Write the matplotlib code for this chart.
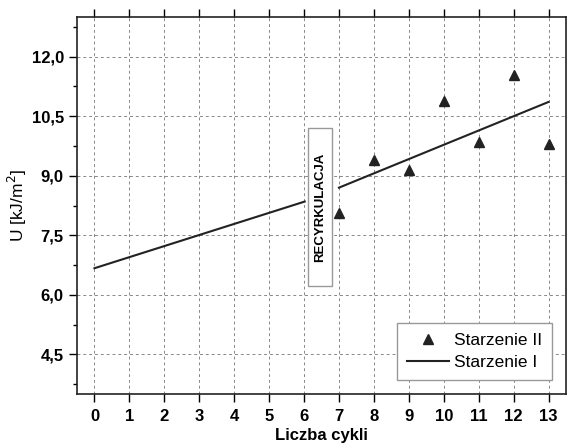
"""
Udarnosc U w funkcji liczby cykli (Starzenie I / Starzenie II)
"""
import matplotlib
matplotlib.use('Agg')
import matplotlib.pyplot as plt
from matplotlib.patches import Rectangle
from matplotlib.ticker import MultipleLocator

plt.rcParams['font.family'] = ['Liberation Sans', 'DejaVu Sans']

# Starzenie II - punkty pomiarowe
cykle_II = [7, 8, 9, 10, 11, 12, 13]
u_II = [8.07, 9.40, 9.15, 10.89, 9.86, 11.54, 9.80]

# Starzenie I - dwa odcinki (przed i po recyrkulacji)
cykle_I_a = [0, 6.02]
u_I_a = [6.67, 8.35]
cykle_I_b = [7, 13]
u_I_b = [8.70, 10.86]

x_ticks = list(range(0, 14))
y_ticks = [4.5, 6.0, 7.5, 9.0, 10.5, 12.0]

fig = plt.figure(figsize=(5.67, 4.48), dpi=100)
ax = fig.add_axes([0.1358, 0.1205, 0.8624, 0.8415])

line, = ax.plot(cykle_I_a, u_I_a, color='#222222', linewidth=1.5, label='Starzenie I')
ax.plot(cykle_I_b, u_I_b, color='#222222', linewidth=1.5)
pts, = ax.plot(cykle_II, u_II, linestyle='none', marker='^', markersize=7.5,
               color='#222222', label='Starzenie II')

ax.set_xlim(-0.5, 13.5)
ax.set_ylim(3.5, 13.0)
ax.set_xticks(x_ticks)
ax.set_yticks(y_ticks)
ax.yaxis.set_minor_locator(MultipleLocator(0.75))
ax.set_yticklabels([f'{v:.1f}'.replace('.', ',') for v in y_ticks])

ax.tick_params(axis='both', which='major', direction='out', length=6, width=1,
               labelsize=12)
ax.tick_params(axis='x', which='major', pad=5, top=True, labeltop=False)
ax.tick_params(axis='y', which='major', pad=3.5)
ax.tick_params(axis='y', which='minor', direction='out', length=3, width=1)
for lab in ax.get_xticklabels() + ax.get_yticklabels():
    lab.set_fontweight('bold')

ax.grid(True, which='major', color='#888888', linestyle=(0, (3, 3)), linewidth=0.7)
ax.set_axisbelow(True)
for s in ax.spines.values():
    s.set_linewidth(1.2)
    s.set_color('#222222')

ax.set_xlabel('Liczba cykli', fontsize=12, fontweight='bold', labelpad=3)
ax.set_ylabel('U [kJ/m$^2$]', fontsize=12.5, labelpad=1.5)

# ramka z napisem RECYRKULACJA
ax.add_patch(Rectangle((6.12, 6.22), 0.68, 3.99, facecolor='white',
                       edgecolor='#999999', linewidth=1, zorder=3))
ax.text(6.46, 8.21, 'RECYRKULACJA', rotation=90, ha='center', va='center',
        fontsize=9.5, fontweight='bold', zorder=4)

ax.legend(handles=[pts, line], loc='lower right', bbox_to_anchor=(0.99, 0.014),
          fontsize=12.5, frameon=True, fancybox=False, edgecolor='#999999',
          framealpha=1, handlelength=2.4, borderpad=0.6, labelspacing=0.35,
          handletextpad=0.3)

plt.savefig('out.png', dpi=100)
plt.close()
